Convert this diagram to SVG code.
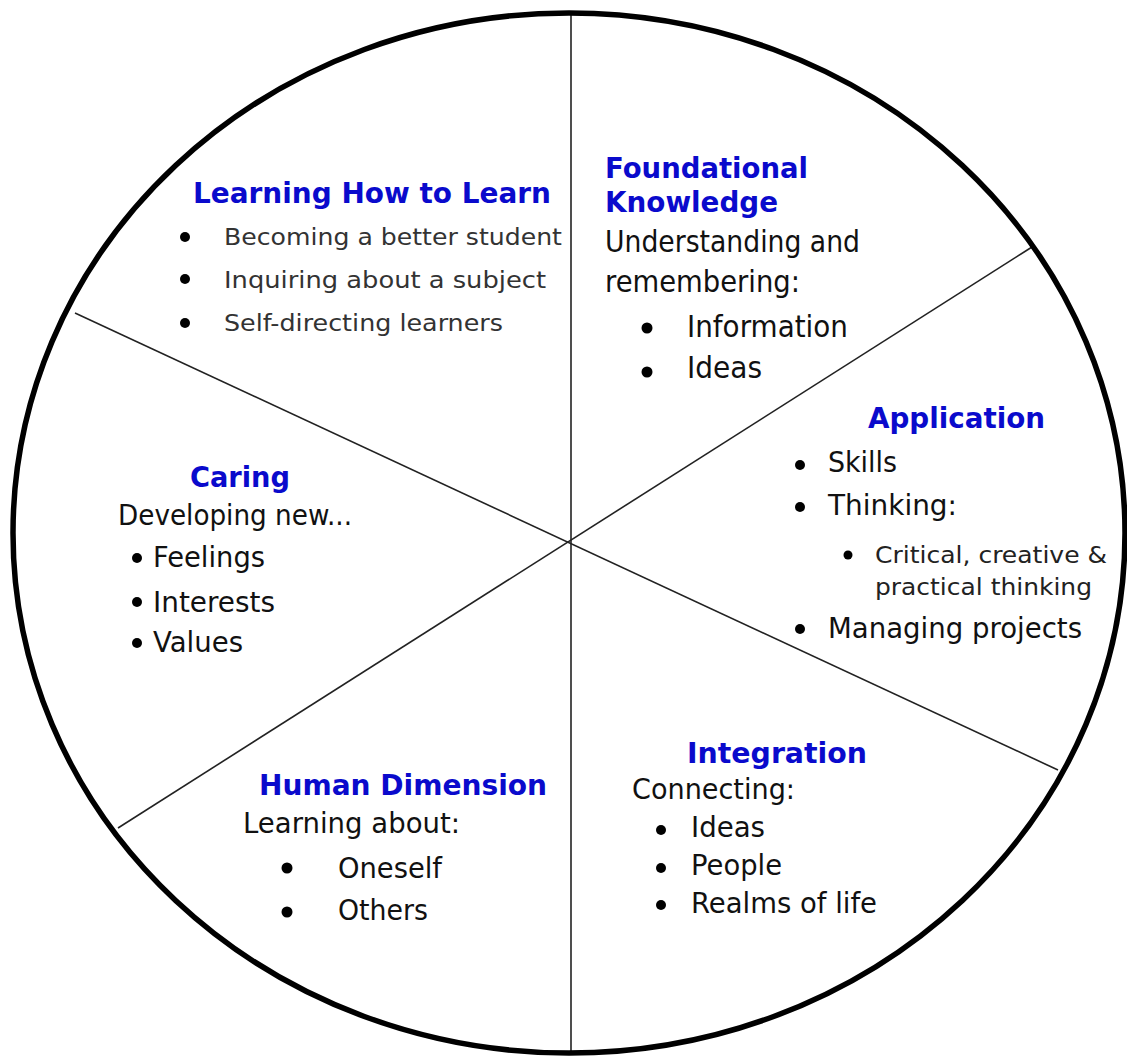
<svg xmlns="http://www.w3.org/2000/svg" width="1127" height="1057" viewBox="0 0 1127 1057">
<style>
  text { font-family: "DejaVu Sans", Verdana, sans-serif; }
  .title { font-weight: bold; font-size: 28px; fill: #0a0acc; }
  .body { font-size: 28.5px; fill: #111; }
  .fk { font-size: 30px; }
  .small { font-size: 23.5px; fill: #333; }
  .sub { font-size: 23px; fill: #222; }
  .bul { fill: #000; }
  .div { stroke: #222; stroke-width: 1.6; fill: none; }
</style>
<rect width="1127" height="1057" fill="#fff"/>
<g id="connectors">
  <line class="div" x1="571" y1="13" x2="571" y2="1053"/>
  <line class="div" x1="75" y1="313" x2="1058" y2="770"/>
  <line class="div" x1="118" y1="828" x2="1032" y2="247"/>
</g>
<g id="outer-circle">
  <ellipse cx="569" cy="533" rx="556" ry="520" fill="none" stroke="#000" stroke-width="5.5"/>
</g>
<g id="learning-how-to-learn">
  <text class="title" x="193" y="203" textLength="358" lengthAdjust="spacingAndGlyphs">Learning How to Learn</text>
  <circle class="bul" cx="185" cy="237" r="5"/>
  <circle class="bul" cx="185" cy="279" r="5"/>
  <circle class="bul" cx="185" cy="323" r="5"/>
  <text class="small" x="224" y="245" textLength="338" lengthAdjust="spacingAndGlyphs">Becoming a better student</text>
  <text class="small" x="224" y="288" textLength="322" lengthAdjust="spacingAndGlyphs">Inquiring about a subject</text>
  <text class="small" x="224" y="331" textLength="279" lengthAdjust="spacingAndGlyphs">Self-directing learners</text>
</g>
<g id="foundational-knowledge">
  <text class="title" x="605" y="178" textLength="203" lengthAdjust="spacingAndGlyphs">Foundational</text>
  <text class="title" x="605" y="212" textLength="173" lengthAdjust="spacingAndGlyphs">Knowledge</text>
  <text class="body fk" x="605" y="252" textLength="255" lengthAdjust="spacingAndGlyphs">Understanding and</text>
  <text class="body fk" x="605" y="292" textLength="195" lengthAdjust="spacingAndGlyphs">remembering:</text>
  <circle class="bul" cx="647" cy="328" r="5.5"/>
  <circle class="bul" cx="647" cy="372" r="5.5"/>
  <text class="body fk" x="687" y="337" textLength="161" lengthAdjust="spacingAndGlyphs">Information</text>
  <text class="body fk" x="687" y="378" textLength="75" lengthAdjust="spacingAndGlyphs">Ideas</text>
</g>
<g id="application">
  <text class="title" x="868" y="428" textLength="177" lengthAdjust="spacingAndGlyphs">Application</text>
  <circle class="bul" cx="800" cy="465" r="5"/>
  <circle class="bul" cx="800" cy="507" r="5"/>
  <circle class="bul" cx="848" cy="555" r="4.5"/>
  <circle class="bul" cx="800" cy="629" r="5"/>
  <text class="body" x="828" y="472" textLength="69" lengthAdjust="spacingAndGlyphs">Skills</text>
  <text class="body" x="828" y="515" textLength="129" lengthAdjust="spacingAndGlyphs">Thinking:</text>
  <text class="sub" x="875" y="563" textLength="232" lengthAdjust="spacingAndGlyphs">Critical, creative &amp;</text>
  <text class="sub" x="875" y="595" textLength="217" lengthAdjust="spacingAndGlyphs">practical thinking</text>
  <text class="body" x="828" y="638" textLength="254" lengthAdjust="spacingAndGlyphs">Managing projects</text>
</g>
<g id="caring">
  <text class="title" x="190" y="487" textLength="100" lengthAdjust="spacingAndGlyphs">Caring</text>
  <text class="body" x="118" y="525" textLength="234" lengthAdjust="spacingAndGlyphs">Developing new...</text>
  <circle class="bul" cx="137" cy="558" r="5"/>
  <circle class="bul" cx="137" cy="602" r="5"/>
  <circle class="bul" cx="137" cy="643" r="5"/>
  <text class="body" x="153" y="567" textLength="112" lengthAdjust="spacingAndGlyphs">Feelings</text>
  <text class="body" x="153" y="612" textLength="122" lengthAdjust="spacingAndGlyphs">Interests</text>
  <text class="body" x="153" y="652" textLength="90" lengthAdjust="spacingAndGlyphs">Values</text>
</g>
<g id="human-dimension">
  <text class="title" x="259" y="795" textLength="288" lengthAdjust="spacingAndGlyphs">Human Dimension</text>
  <text class="body" x="243" y="833" textLength="217" lengthAdjust="spacingAndGlyphs">Learning about:</text>
  <circle class="bul" cx="287" cy="868" r="5.5"/>
  <circle class="bul" cx="287" cy="912" r="5.5"/>
  <text class="body" x="338" y="878" textLength="104" lengthAdjust="spacingAndGlyphs">Oneself</text>
  <text class="body" x="338" y="920" textLength="90" lengthAdjust="spacingAndGlyphs">Others</text>
</g>
<g id="integration">
  <text class="title" x="687" y="763" textLength="180" lengthAdjust="spacingAndGlyphs">Integration</text>
  <text class="body" x="632" y="799" textLength="163" lengthAdjust="spacingAndGlyphs">Connecting:</text>
  <circle class="bul" cx="661" cy="830" r="5"/>
  <circle class="bul" cx="661" cy="868" r="5"/>
  <circle class="bul" cx="661" cy="905" r="5"/>
  <text class="body" x="691" y="837" textLength="74" lengthAdjust="spacingAndGlyphs">Ideas</text>
  <text class="body" x="691" y="875" textLength="91" lengthAdjust="spacingAndGlyphs">People</text>
  <text class="body" x="691" y="913" textLength="186" lengthAdjust="spacingAndGlyphs">Realms of life</text>
</g>
</svg>
